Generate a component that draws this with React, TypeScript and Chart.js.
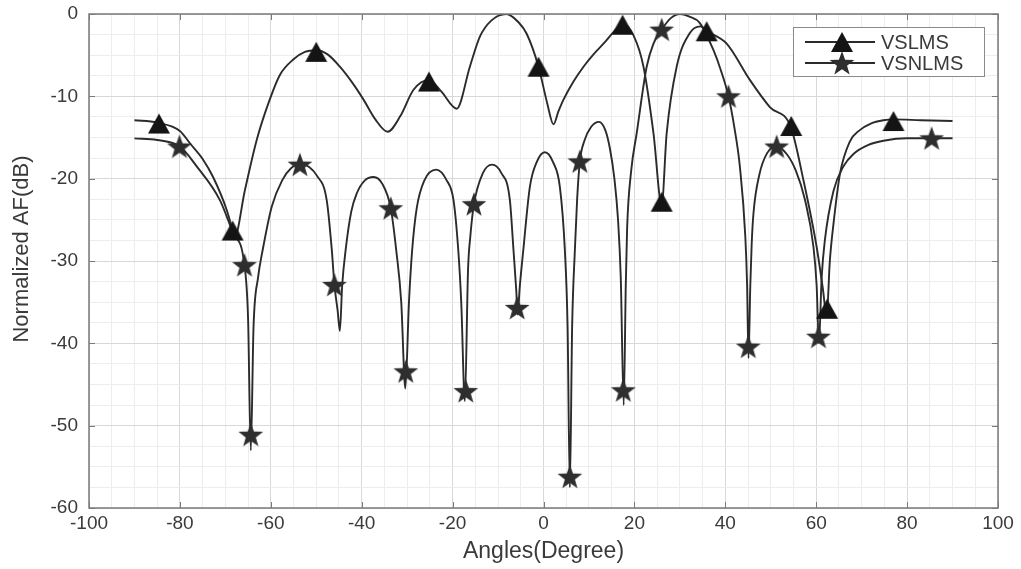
import React, { useEffect, useRef } from "react";
import { Chart, registerables } from "chart.js";

Chart.register(...registerables);

// ---- data (angle in degrees, normalized AF in dB) ----
const seriesNames = ["VSLMS", "VSNLMS"];
const xTitle = "Angles(Degree)";
const yTitle = "Normalized AF(dB)";

const vslmsCurve: [number, number][] = [
  [-90, -12.9], [-85, -13.2], [-80, -14.2], [-77.8, -15.7], [-75, -17.6], [-72.7, -19.8],
  [-69.7, -23.8], [-68.4, -26.3], [-68.0, -27.2], [-65.7, -21.4], [-63.1, -15.3], [-60.5, -10.8],
  [-58, -7.4], [-55, -5.5], [-52.5, -4.6], [-50, -4.4], [-47.5, -4.9], [-44.8, -6.4],
  [-42, -8.4], [-39.6, -10.4], [-37, -12.8], [-34.3, -14.3], [-31.5, -12.4], [-28.6, -9.2],
  [-25.2, -8.0], [-22.5, -9.4], [-19.1, -11.5], [-16.2, -6.4], [-14, -2.75], [-11.5, -0.8],
  [-8.2, 0], [-5.5, -1.0], [-3.7, -2.4], [-1.1, -6.4], [0.8, -10.8], [2.2, -13.4],
  [3.3, -11.8], [4.4, -10.4], [6.6, -8.2], [8.8, -6.4], [11, -4.9], [13.2, -3.6],
  [15.4, -2.2], [17.4, -1.2], [19.8, -2.6], [22, -6.4],
  [24.2, -14.5], [26, -23.2], [27.1, -14.5], [29.3, -6.4], [32.2, -2.3], [34.5, -1.5],
  [36, -2.1], [40.3, -3.6], [45.4, -8.0], [49.8, -11.3], [54.4, -13.7], [57.2, -20.2],
  [60.1, -28.3], [61.5, -33.5], [62.3, -36.8], [63, -30], [63.8, -25.5], [65.2, -19.5],
  [67.4, -15.5], [69.6, -14.1], [72, -13.3], [74.8, -12.9], [77, -12.8], [83, -12.9], [90, -13.0],
];

const vsnlmsCurve: [number, number][] = [
  [-90, -15.1], [-85, -15.3], [-80, -16.1], [-76.3, -18.5], [-71.2, -22.6], [-68.3, -26.6],
  [-65.8, -30.5], [-65.0, -37], [-64.4, -53], [-63.8, -38], [-62.8, -32], [-61.8, -28.7],
  [-59.8, -23.4], [-57.5, -20.2], [-55.5, -18.7], [-53.5, -18.2], [-51.5, -18.6], [-49.9, -19.6],
  [-47.7, -22.6], [-46.6, -28.5], [-46, -32.9], [-45.3, -36], [-44.8, -38.5], [-44.3, -33],
  [-43.5, -28.5], [-42.3, -24], [-41.1, -21.8], [-39.3, -20.2], [-37.4, -19.8], [-35.5, -20.6],
  [-33.6, -23.6], [-32.4, -28.7], [-31.3, -35], [-30.4, -45.5], [-29.6, -35], [-28.9, -28.7],
  [-27.9, -23.6], [-26.2, -20.2], [-23.6, -18.9], [-21.3, -20.2], [-19.8, -22.6], [-18.75, -28.7],
  [-18.1, -35], [-17.3, -47], [-16.6, -31], [-16.1, -27], [-15.3, -23.1], [-13.4, -19.4],
  [-11.3, -18.3], [-9.3, -19.3], [-7.4, -22.6], [-6.6, -28.7], [-6.0, -33.5], [-5.7, -36.5],
  [-5.2, -33], [-4.45, -28.7], [-3.0, -21], [-1.5, -18], [0.3, -16.8], [2.1, -18],
  [3.6, -21], [4.7, -28.7], [5.3, -38], [5.8, -57.5], [6.3, -38], [6.9, -28.7],
  [7.4, -22.5], [8.0, -17.9], [9.0, -15.4], [10.5, -13.7], [12.2, -13.1], [13.6, -14.1],
  [14.6, -16.3], [15.6, -20], [16.4, -25], [17.0, -32], [17.65, -47.5], [18.1, -33],
  [18.4, -26], [19.3, -19], [20.5, -14.5], [22.7, -6.4], [24.2, -3.6], [26, -1.9],
  [28, -0.5], [30, 0], [32, -0.3], [34.4, -1.1], [37.4, -4.4], [39, -6.8],
  [40.7, -10], [42, -13.8], [43.2, -18.5], [44.4, -27], [44.8, -33], [45.1, -41.8],
  [45.5, -33], [45.8, -28], [46.2, -24.2], [47.5, -19.5], [49.2, -16.9], [51.2, -16.1],
  [53.5, -17], [55.5, -19], [57.5, -22.5], [59.4, -28.3], [60.1, -33], [60.6, -40],
  [61.2, -32], [61.9, -27.5], [63.8, -21.5], [66, -18.5], [68.2, -17], [71.5, -15.9],
  [74.8, -15.4], [80, -15.1], [85.4, -15.1], [90, -15.1],
];

const vslmsMarkers: [number, number][] = [
  [-84.6, -13.3], [-68.4, -26.3], [-50, -4.6], [-25.2, -8.2], [-1.1, -6.4], [17.4, -1.3],
  [26, -22.8], [35.9, -2.1], [54.5, -13.6], [62.4, -35.8], [77, -13.0],
];

const vsnlmsMarkers: [number, number][] = [
  [-80.1, -16.1], [-65.8, -30.5], [-64.4, -51.1], [-53.6, -18.3], [-46, -32.9], [-33.6, -23.6],
  [-30.3, -43.4], [-17.1, -45.8], [-15.3, -23.1], [-5.8, -35.7], [5.8, -56.2], [8.0, -17.9],
  [17.55, -45.7], [26, -1.9], [40.7, -10], [45.06, -40.4], [51.3, -16.1], [60.5, -39.2], [85.4, -15.1],
];

const xTickLabels = [-100, -80, -60, -40, -20, 0, 20, 40, 60, 80, 100];
const yTickLabels = [0, -10, -20, -30, -40, -50, -60];

const FONT = "'Liberation Sans', Arial, Helvetica, sans-serif";
const LINE = "#2b2b2b";
const TEXT = "#3a3a3a";

function makeTriangle(): HTMLCanvasElement {
  const c = document.createElement("canvas");
  c.width = 26;
  c.height = 24;
  const g = c.getContext("2d")!;
  g.fillStyle = "#141414";
  g.beginPath();
  g.moveTo(13, 2);
  g.lineTo(24, 22);
  g.lineTo(2, 22);
  g.closePath();
  g.fill();
  return c;
}

function makeStar(): HTMLCanvasElement {
  const c = document.createElement("canvas");
  c.width = 28;
  c.height = 28;
  const g = c.getContext("2d")!;
  g.fillStyle = "#2e2e2e";
  g.beginPath();
  const cx = 14, cy = 15, R = 13, r = 5.3;
  for (let i = 0; i < 10; i++) {
    const ang = -Math.PI / 2 + (i * Math.PI) / 5;
    const rad = i % 2 === 0 ? R : r;
    const px = cx + rad * Math.cos(ang);
    const py = cy + rad * Math.sin(ang);
    if (i === 0) g.moveTo(px, py);
    else g.lineTo(px, py);
  }
  g.closePath();
  g.fill();
  return c;
}

export default function App() {
  const ref = useRef<HTMLCanvasElement | null>(null);

  useEffect(() => {
    if (!ref.current) return;
    const tri = makeTriangle();
    const star = makeStar();

    const frame = {
      id: "matlabFrame",
      afterDatasetsDraw(chart: any) {
        const ctx = chart.ctx as CanvasRenderingContext2D;
        const a = chart.chartArea;
        const xs = chart.scales.x;
        const ys = chart.scales.y;
        ctx.save();
        ctx.strokeStyle = "#7a7a7a";
        ctx.lineWidth = 1.5;
        ctx.strokeRect(a.left, a.top, a.right - a.left, a.bottom - a.top);
        ctx.lineWidth = 1;
        ctx.beginPath();
        for (const v of xTickLabels) {
          const px = Math.round(xs.getPixelForValue(v)) + 0.5;
          ctx.moveTo(px, a.bottom);
          ctx.lineTo(px, a.bottom - 6);
          ctx.moveTo(px, a.top);
          ctx.lineTo(px, a.top + 6);
        }
        for (const v of yTickLabels) {
          const py = Math.round(ys.getPixelForValue(v)) + 0.5;
          ctx.moveTo(a.left, py);
          ctx.lineTo(a.left + 6, py);
          ctx.moveTo(a.right, py);
          ctx.lineTo(a.right - 6, py);
        }
        ctx.stroke();

        // y-axis title
        ctx.save();
        ctx.translate(22, 249);
        ctx.rotate(-Math.PI / 2);
        ctx.fillStyle = TEXT;
        ctx.font = `22px ${FONT}`;
        ctx.textAlign = "center";
        ctx.textBaseline = "middle";
        ctx.fillText(yTitle, 0, 0);
        ctx.restore();

        // legend
        const lx = a.right - 205, ly = a.top + 13, lw = 191, lh = 49;
        ctx.fillStyle = "#ffffff";
        ctx.fillRect(lx, ly, lw, lh);
        ctx.strokeStyle = "#8a8a8a";
        ctx.lineWidth = 1;
        ctx.strokeRect(lx + 0.5, ly + 0.5, lw, lh);
        const imgs = [tri, star];
        for (let i = 0; i < seriesNames.length; i++) {
          const y = ly + 15 + i * 21;
          ctx.strokeStyle = LINE;
          ctx.lineWidth = 1.8;
          ctx.beginPath();
          ctx.moveTo(lx + 12, y);
          ctx.lineTo(lx + 82, y);
          ctx.stroke();
          const im = imgs[i];
          ctx.drawImage(im, lx + 49 - im.width / 2, y - im.height / 2);
          ctx.fillStyle = TEXT;
          ctx.font = `20px ${FONT}`;
          ctx.textBaseline = "middle";
          ctx.textAlign = "left";
          ctx.fillText(seriesNames[i], lx + 88, y + 1);
        }
        ctx.restore();
      },
    };

    const toPts = (arr: [number, number][]) => arr.map(([x, y]) => ({ x, y }));

    const chart = new Chart(ref.current, {
      type: "line",
      data: {
        datasets: [
          {
            label: seriesNames[0] + " markers",
            data: toPts(vslmsMarkers),
            showLine: false,
            pointStyle: tri as any,
            pointRadius: 12,
            order: 0,
            clip: false as any,
          },
          {
            label: seriesNames[1] + " markers",
            data: toPts(vsnlmsMarkers),
            showLine: false,
            pointStyle: star as any,
            pointRadius: 12,
            order: 1,
            clip: false as any,
          },
          {
            label: seriesNames[0],
            data: toPts(vslmsCurve),
            borderColor: LINE,
            borderWidth: 1.9,
            pointRadius: 0,
            fill: false,
            cubicInterpolationMode: "monotone",
            order: 2,
          },
          {
            label: seriesNames[1],
            data: toPts(vsnlmsCurve),
            borderColor: LINE,
            borderWidth: 1.9,
            pointRadius: 0,
            fill: false,
            cubicInterpolationMode: "monotone",
            order: 3,
          },
        ],
      },
      options: {
        animation: false,
        responsive: false,
        layout: { padding: { left: 0, right: 23, top: 14, bottom: 0 } },
        plugins: { legend: { display: false }, tooltip: { enabled: false } },
        scales: {
          x: {
            type: "linear",
            min: -100,
            max: 100,
            ticks: {
              stepSize: 5,
              autoSkip: false,
              maxRotation: 0,
              minRotation: 0,
              padding: 4,
              color: TEXT,
              font: { family: FONT, size: 19 },
              callback: (v: any) => (xTickLabels.includes(Number(v)) ? String(v) : ""),
            },
            grid: {
              drawTicks: false,
              lineWidth: 1,
              color: (c: any) => (xTickLabels.includes(c.tick?.value) ? "#d8d8d8" : "#ededed"),
            },
            border: { display: false },
            title: {
              display: true,
              text: xTitle,
              color: TEXT,
              font: { family: FONT, size: 23 },
              padding: { top: 0, bottom: 4 },
            },
            afterFit: (s: any) => {
              s.height = 61;
              s.paddingLeft = 0;
              s.paddingRight = 0;
            },
          },
          y: {
            type: "linear",
            min: -60,
            max: 0,
            ticks: {
              stepSize: 2.5,
              autoSkip: false,
              padding: 11,
              color: TEXT,
              font: { family: FONT, size: 19 },
              callback: (v: any) => (yTickLabels.includes(Number(v)) ? String(v) : ""),
            },
            grid: {
              drawTicks: false,
              lineWidth: 1,
              color: (c: any) => (yTickLabels.includes(c.tick?.value) ? "#d8d8d8" : "#ededed"),
            },
            border: { display: false },
            title: { display: false },
            afterFit: (s: any) => {
              s.width = 89;
              s.paddingTop = 0;
              s.paddingBottom = 0;
            },
          },
        },
      },
      plugins: [frame],
    });

    return () => chart.destroy();
  }, []);

  return (
    <div style={{ position: "fixed", left: 0, top: 0, width: 1021, height: 569, background: "#fff" }}>
      <canvas ref={ref} width={1021} height={569} style={{ display: "block" }} />
    </div>
  );
}
